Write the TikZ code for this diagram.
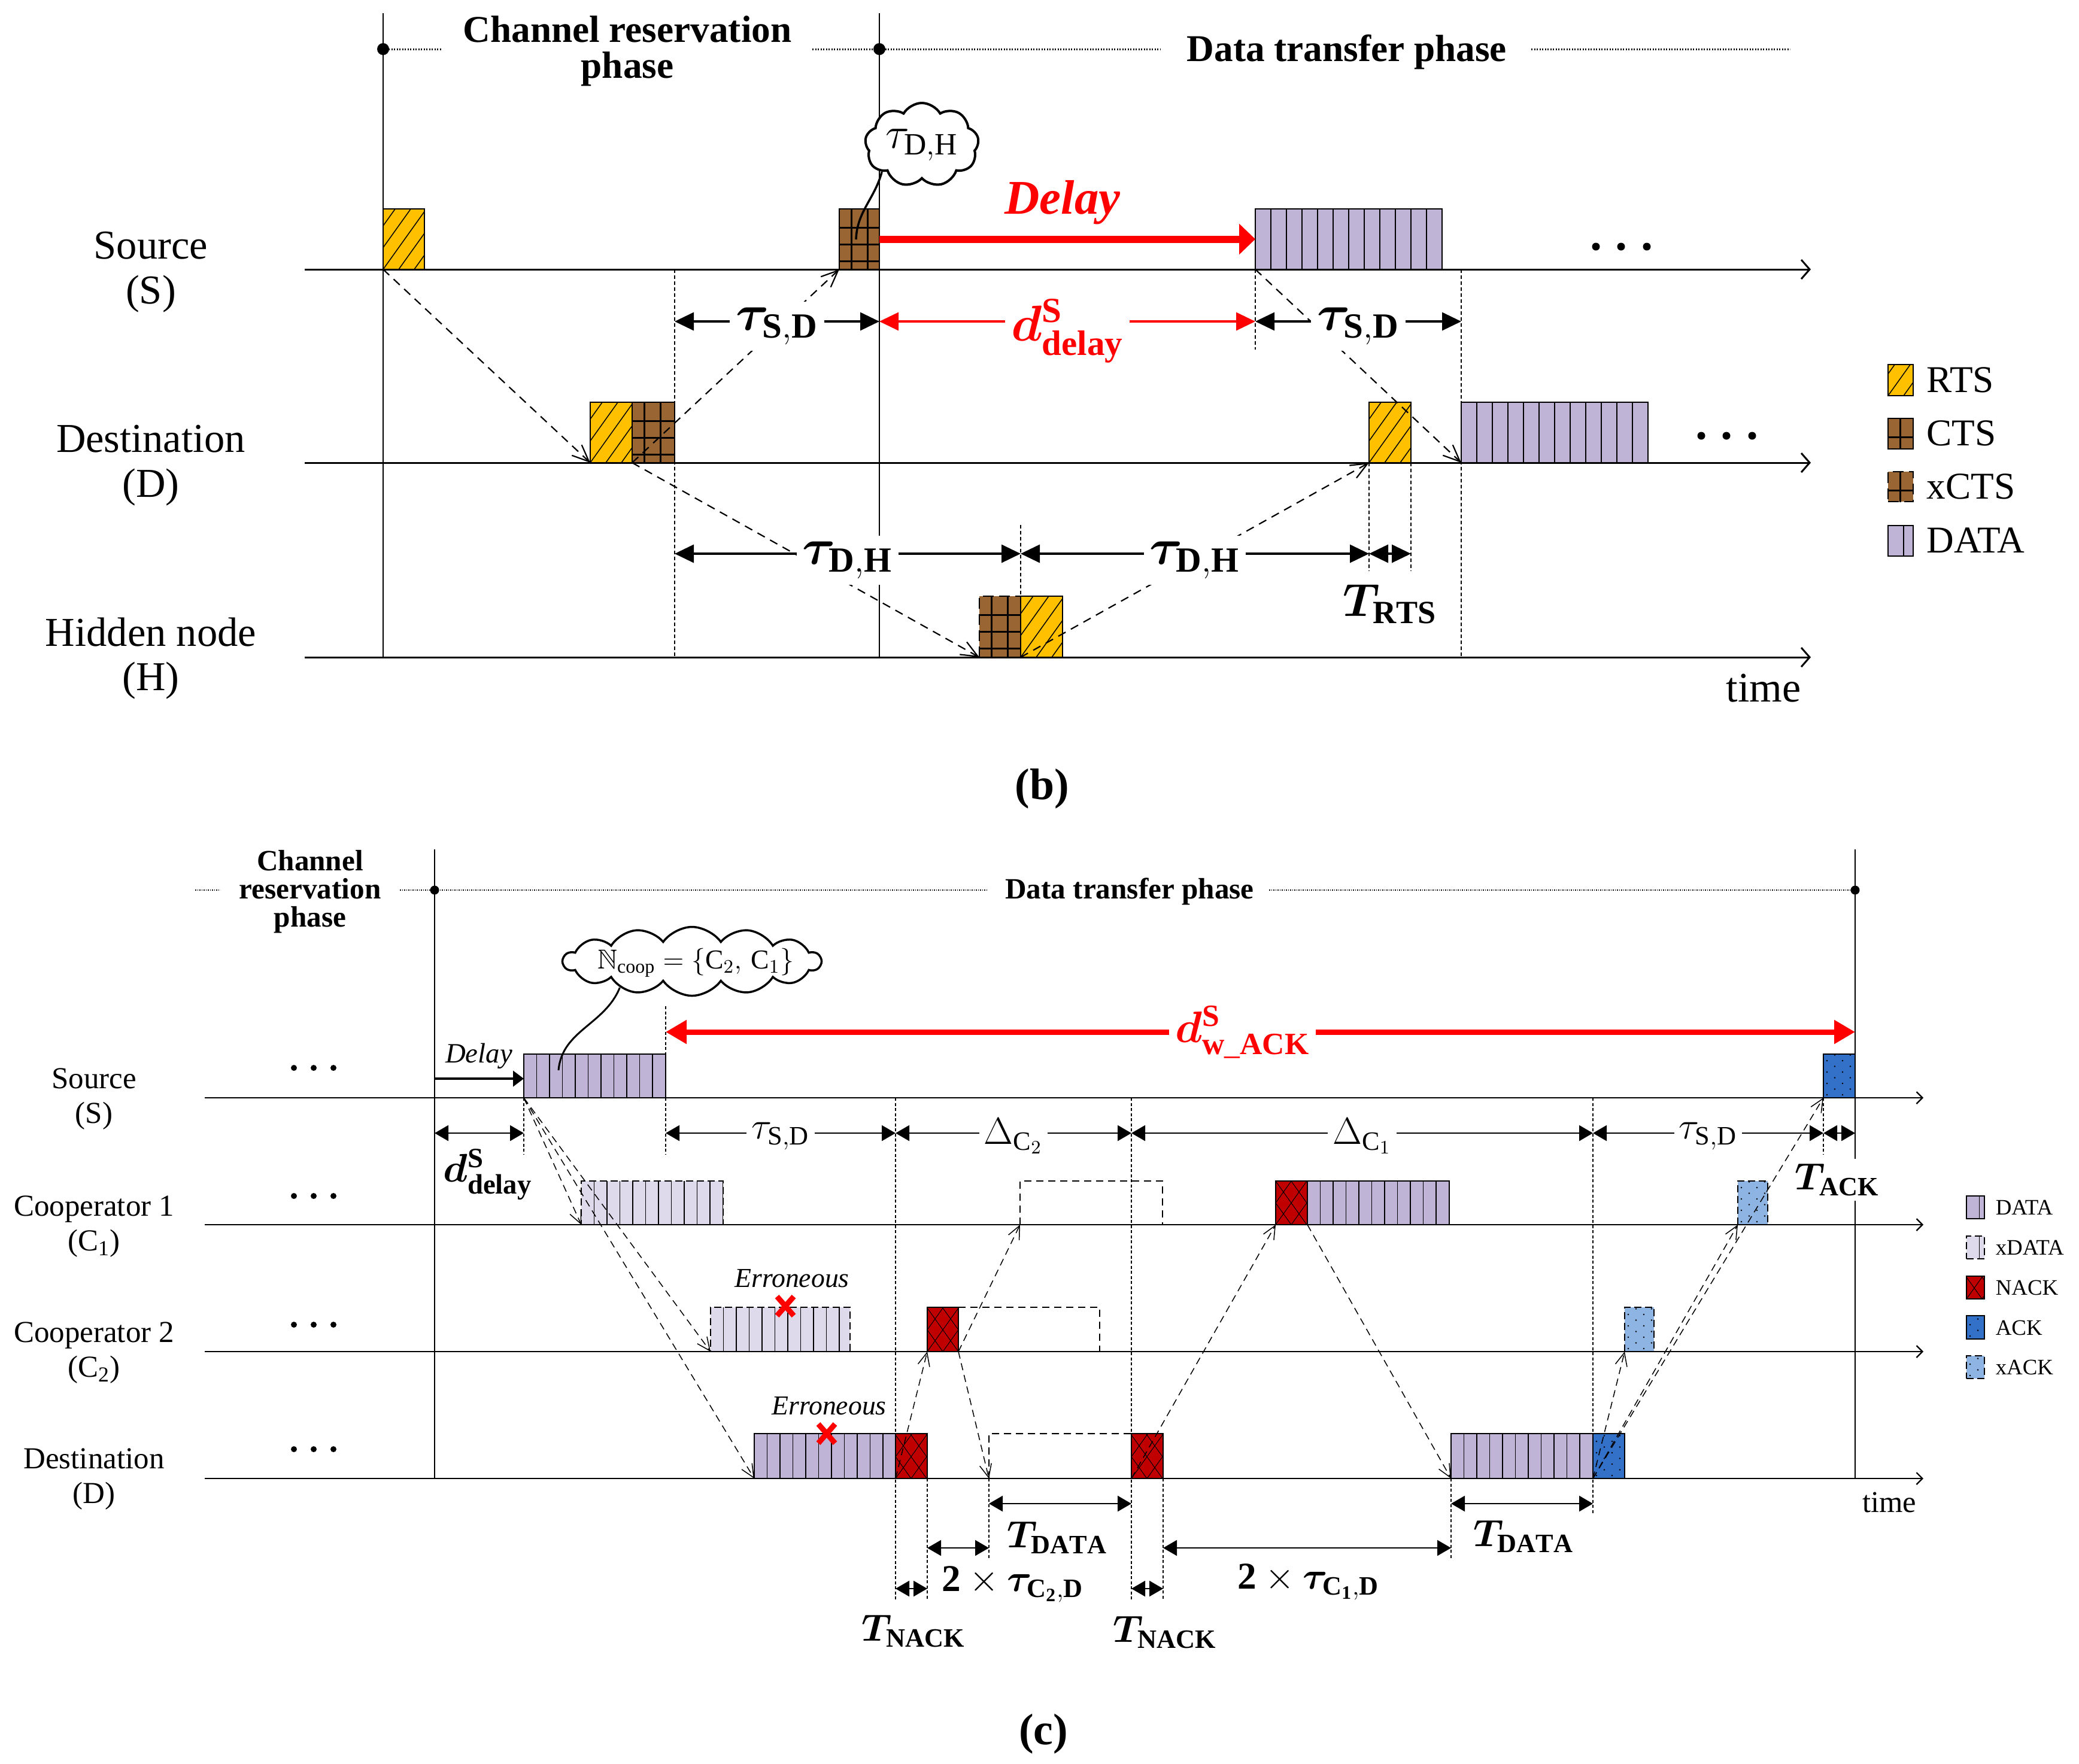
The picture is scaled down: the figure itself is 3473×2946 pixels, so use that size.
\RequirePackage{fix-cm}
\documentclass[tikz,border=0pt]{standalone}
\usepackage{amsmath,amssymb}
\usepackage{fontspec}
\setmainfont{Liberation Serif}
\usepackage{bm}
\usetikzlibrary{arrows.meta,shapes.symbols}
\definecolor{rtsc}{RGB}{255,192,0}
\definecolor{ctsc}{RGB}{153,102,51}
\definecolor{datac}{RGB}{192,180,214}
\definecolor{xdatac}{RGB}{223,218,235}
\definecolor{nackc}{RGB}{192,0,0}
\definecolor{ackc}{RGB}{51,112,200}
\definecolor{xackc}{RGB}{142,180,227}
\newcommand{\mypkt}[6]{\node[pkt,#2,minimum width={(#4-#3)*0.1mm},minimum height={(#5-#6)*0.1mm}] (#1) at (#3,#5) {};}
\newcommand{\ackdots}{\foreach \i in {0,...,3}{\foreach \j in {0,...,5}{\fill[black] ([xshift=\i*2.6mm+0.6mm,yshift=\j*1.9mm+0.5mm]path picture bounding box.south west) circle (0.14mm);\fill[black] ([xshift=\i*2.6mm+1.9mm,yshift=\j*1.9mm+1.45mm]path picture bounding box.south west) circle (0.14mm);}}}
\newcommand{\datalines}[2]{\foreach \k in {1,...,16}{\draw[black,solid,line width=#2] ([xshift=\k*#1]path picture bounding box.south west) -- ++(0,-200);}}
\tikzset{
 pkt/.style={draw, line width=0.25mm, inner sep=0pt, outer sep=0pt, anchor=south west},
 rtsb/.style={fill=rtsc, path picture={\foreach \k in {-12,...,6}{\draw[black,solid,line width=0.15mm] ([xshift=\k*2.6mm]path picture bounding box.south west) -- ++(100,-140);}}},
 ctsb/.style={fill=ctsc, path picture={\foreach \k in {1,...,3}{\draw[black,solid,line width=0.3mm] ([xshift=\k*2.7mm-0.7mm]path picture bounding box.north west) -- ++(0,200);}\foreach \k in {1,...,4}{\draw[black,solid,line width=0.3mm] ([yshift=-\k*2.8mm-0.3mm]path picture bounding box.north west) -- ++(200,0);}}},
 xctsb/.style={ctsb, dash pattern=on 1.8mm off 0.9mm},
 datab/.style={fill=datac, path picture={\datalines{2.6mm}{0.2mm}}},
 datacs/.style={fill=datac, line width=0.2mm, path picture={\datalines{2.15mm}{0.15mm}}},
 xdata/.style={fill=xdatac, line width=0.2mm, dash pattern=on 1.2mm off 0.6mm, path picture={\datalines{2.15mm}{0.15mm}}},
 nack/.style={fill=nackc, line width=0.2mm, path picture={\foreach \k in {-6,...,8}{\draw[black,solid,line width=0.1mm] ([xshift=\k*2.6mm]path picture bounding box.south west) -- ++(55,-77);\draw[black,solid,line width=0.1mm] ([xshift=\k*2.6mm]path picture bounding box.south west) -- ++(-55,-77);}}},
 ack/.style={fill=ackc, line width=0.2mm, path picture={\ackdots}},
 xack/.style={fill=xackc, line width=0.2mm, dash pattern=on 1.2mm off 0.6mm, path picture={\ackdots}},
 axb/.style={line width=0.3mm, -{Straight Barb[length=1.4mm,width=3.2mm]}},
 axc/.style={line width=0.22mm, -{Straight Barb[length=1mm,width=2mm]}},
 vsol/.style={line width=0.2mm},
 guide/.style={line width=0.15mm, dash pattern=on 0.6mm off 0.4mm},
 guidec/.style={line width=0.12mm, dash pattern=on 0.5mm off 0.35mm},
 sigb/.style={line width=0.22mm, dash pattern=on 1.4mm off 1mm, -{Straight Barb[length=2.8mm,width=2.4mm]}},
 sigc/.style={line width=0.15mm, dash pattern=on 1.2mm off 0.8mm, -{Straight Barb[length=2.2mm,width=2mm]}},
 dimb/.style={line width=0.35mm, {Triangle[length=3.2mm,width=3mm]}-{Triangle[length=3.2mm,width=3mm]}},
 dimc/.style={line width=0.25mm, {Triangle[length=2.3mm,width=2.6mm]}-{Triangle[length=2.3mm,width=2.6mm]}},
 phase/.style={line width=0.3mm, dash pattern=on 0.2mm off 0.25mm},
 phasec/.style={line width=0.2mm, dash pattern=on 0.15mm off 0.2mm},
 emp/.style={line width=0.2mm, dash pattern=on 1.2mm off 0.8mm},
 lblb/.style={font=\fontsize{19.5}{21.3}\selectfont, align=center},
 lblc/.style={font=\fontsize{14.5}{16.5}\selectfont, align=center},
 phb/.style={font=\bfseries\fontsize{18}{17}\selectfont, align=center},
 phc/.style={font=\bfseries\fontsize{14}{13.4}\selectfont, align=center},
 dlb/.style={font=\fontsize{24}{28}\selectfont, fill=white, inner sep=1mm},
 dlc/.style={font=\fontsize{18}{22}\selectfont, fill=white, inner sep=0.8mm},
 dlcn/.style={font=\fontsize{18}{22}\selectfont, inner sep=0.5mm},
 legb/.style={font=\fontsize{18}{20}\selectfont, anchor=west, inner sep=0pt},
 legc/.style={font=\fontsize{10.5}{12}\selectfont, anchor=west, inner sep=0pt},
 xmark/.style={red, line width=0.9mm},
 cloudshape/.style={cloud, draw, fill=white, cloud ignores aspect, inner sep=0pt},
}
\begin{document}
\begin{tikzpicture}[x=0.1mm,y=-0.1mm]
\useasboundingbox (0,0) rectangle (3473,2946);
%%%%%%%%%%%%%%%%%%%% panel (b)
\fill (640,82) circle (1mm);
\fill (1469,82) circle (1mm);
\draw[phase] (640,82) -- (737,82);
\draw[phase] (1357,82) -- (1938,82);
\draw[phase] (2558,82) -- (2990,82);
\node[phb] (bCRP) at (1048,85) {Channel reservation\\phase};
\node[phb] (bDTP) at (2250,87) {Data transfer phase};
% verticals and guides
\draw[vsol] (640,22) -- (640,1098);
\draw[vsol] (1469,22) -- (1469,1098);
\draw[guide] (1127,450) -- (1127,1098);
\draw[guide] (2441,450) -- (2441,1098);
\draw[guide] (2097,450) -- (2097,584);
\draw[guide] (1705,877) -- (1705,996);
\draw[guide] (2287,773) -- (2287,954);
\draw[guide] (2357,773) -- (2357,954);
% packets
\mypkt{sRTS}{rtsb}{640}{709}{450}{349}
\mypkt{sCTS}{ctsb}{1402}{1469}{450}{349}
\mypkt{sDATA}{datab}{2097}{2409}{450}{349}
\mypkt{dRTS}{rtsb}{986}{1056}{773}{672}
\mypkt{dCTS}{ctsb}{1056}{1127}{773}{672}
\mypkt{dRTSb}{rtsb}{2287}{2357}{773}{672}
\mypkt{dDATA}{datab}{2441}{2753}{773}{672}
\mypkt{hCTS}{xctsb}{1636}{1705}{1098}{996}
\mypkt{hRTS}{rtsb}{1705}{1775}{1098}{996}
% axes
\draw[axb] (509,450) -- (3025,450);
\draw[axb] (509,773) -- (3025,773);
\draw[axb] (509,1098) -- (3025,1098);
% signals
\draw[sigb] (sRTS.south west) -- (dRTS.south west);
\draw[sigb] (dCTS.south west) -- (sCTS.south west);
\draw[sigb] (dCTS.south west) -- (hCTS.south west);
\draw[sigb] (hRTS.south west) -- (dRTSb.south west);
\draw[sigb] (sDATA.south west) -- (dDATA.south west);
% red delay arrow
\draw[red, line width=1.2mm, -{Triangle[length=2.7mm,width=5mm]}] (sCTS.east) -- (sDATA.west);
\node[font=\bfseries\itshape\fontsize{23}{26}\selectfont, text=red, anchor=base] (bDelay) at (1775,357) {Delay};
% dimensions
\draw[dimb] (1127,537) -- node[dlb, yshift=-0.8mm] (lTSD1) {$\bm{\tau}_{\mathbf{S,D}}$} (1469,537);
\draw[dimb, red] (1469,537) -- node[dlb, text=red, yshift=-1.6mm] (lDdelB) {$\bm{d}^{\mathbf{S}}_{\mathbf{delay}}$} (2097,537);
\draw[dimb] (2097,537) -- node[dlb, yshift=-0.8mm] (lTSD2) {$\bm{\tau}_{\mathbf{S,D}}$} (2441,537);
\draw[dimb] (1127,925) -- node[dlb, yshift=-1.1mm] (lTDH1) {$\bm{\tau}_{\mathbf{D,H}}$} (1705,925);
\draw[dimb] (1705,925) -- node[dlb, yshift=-1.1mm] (lTDH2) {$\bm{\tau}_{\mathbf{D,H}}$} (2287,925);
\draw[dimb] (2287,925) -- (2357,925);
\node[font=\fontsize{22}{26}\selectfont] (lTRTS) at (2322,1009) {$\bm{T}_{\mathbf{RTS}}$};
% cloud
\node[cloudshape, line width=0.4mm, cloud puffs=9, cloud puff arc=120, minimum width=19mm, minimum height=14mm] (cloudB) at (1540,242) {};
\node[font=\fontsize{21}{24}\selectfont, inner sep=0pt] (cloudBtext) at (cloudB.center) {$\tau_{\mathrm{D,H}}$};
\coordinate (cloudBtip) at (1430,400);
\draw[line width=0.35mm] (cloudB.214) to[out=-105,in=88] (cloudBtip);
% dots
\foreach \dx in {0,42,85} \fill (2666+\dx,412) circle (0.65mm);
\foreach \dx in {0,42,85} \fill (2842+\dx,728) circle (0.65mm);
% labels
\node[lblb] (lS) at (252,455) {Source\\(S)};
\node[lblb] (lD) at (252,778) {Destination\\(D)};
\node[lblb] (lH) at (252,1100) {Hidden node\\(H)};
\node[font=\fontsize{20}{24}\selectfont] (ltimeB) at (2946,1150) {time};
% legend (b)
\mypkt{lgRTS}{rtsb}{3154}{3196}{661}{609}
\mypkt{lgCTS}{ctsb}{3154}{3196}{750}{699}
\mypkt{lgxCTS}{xctsb}{3154}{3196}{838}{788}
\mypkt{lgDATA}{datab}{3154}{3196}{929}{878}
\node[legb] (tRTS) at (3218,635) {RTS};
\node[legb] (tCTS) at (3218,724) {CTS};
\node[legb] (txCTS) at (3218,813) {xCTS};
\node[legb] (tDATA) at (3218,903) {DATA};
\node[font=\bfseries\fontsize{21}{24}\selectfont] (capB) at (1741,1318) {(b)};
%%%%%%%%%%%%%%%%%%%% panel (c)
\fill (726,1487) circle (0.75mm);
\fill (3099,1487) circle (0.75mm);
\draw[phasec] (326,1487) -- (368,1487);
\draw[phasec] (668,1487) -- (1651,1487);
\draw[phasec] (2120,1487) -- (3099,1487);
\node[phc] (cCRP) at (518,1490) {Channel\\reservation\\phase};
\node[phc] (cDTP) at (1887,1489) {Data transfer phase};
\draw[vsol] (726,1419) -- (726,2470);
\draw[vsol] (3099,1419) -- (3099,2470);
% guides
\draw[guidec] (875,1834) -- (875,1929);
\draw[guidec] (1112,1681) -- (1112,1929);
\draw[guidec] (1496,1834) -- (1496,2672);
\draw[guidec] (1549,2470) -- (1549,2672);
\draw[guidec] (1652,2470) -- (1652,2603);
\draw[guidec] (1890,1834) -- (1890,2672);
\draw[guidec] (1943,2470) -- (1943,2672);
\draw[guidec] (2424,2470) -- (2424,2603);
\draw[guidec] (2661,1834) -- (2661,2530);
\draw[guidec] (3046,1834) -- (3046,1928);
% packets
\mypkt{cSDATA}{datacs}{875}{1112}{1834}{1761}
\mypkt{cSACK}{ack}{3046}{3099}{1834}{1761}
\mypkt{c1xDATA}{xdata}{971}{1208}{2046}{1973}
\mypkt{c1NACK}{nack}{2131}{2184}{2046}{1973}
\mypkt{c1DATA}{datacs}{2184}{2421}{2046}{1973}
\mypkt{c1xACK}{xack}{2903}{2953}{2046}{1973}
\mypkt{c2xDATA}{xdata}{1187}{1420}{2258}{2184}
\mypkt{c2NACK}{nack}{1549}{1601}{2258}{2184}
\mypkt{c2xACK}{xack}{2714}{2763}{2258}{2184}
\mypkt{dDATAe}{datacs}{1260}{1496}{2470}{2395}
\mypkt{dNACK1}{nack}{1496}{1549}{2470}{2395}
\mypkt{dNACK2}{nack}{1890}{1943}{2470}{2395}
\mypkt{dDATA2}{datacs}{2424}{2661}{2470}{2395}
\mypkt{dACK}{ack}{2661}{2714}{2470}{2395}
% empty expected slots
\draw[emp] (1704,2046) -- (1704,1973) -- (1942,1973) -- (1942,2046);
\draw[emp] (c2NACK.north east) -- (1837,2184) -- (1837,2258);
\draw[emp] (1652,2470) -- (1652,2395) -- (dNACK2.north west);
% axes
\draw[axc] (342,1834) -- (3213,1834);
\draw[axc] (342,2046) -- (3213,2046);
\draw[axc] (342,2258) -- (3213,2258);
\draw[axc] (342,2470) -- (3213,2470);
% signals
\coordinate (dExp) at (1652,2470);
\coordinate (c1Exp) at (1704,2046);
\draw[sigc] (cSDATA.south west) -- (c1xDATA.south west);
\draw[sigc] (cSDATA.south west) -- (c2xDATA.south west);
\draw[sigc] (cSDATA.south west) -- (dDATAe.south west);
\draw[sigc] (dNACK1.south west) -- (c2NACK.south west);
\draw[sigc] (c2NACK.south east) -- (dExp);
\draw[sigc] (c2NACK.south east) -- (c1Exp);
\draw[sigc] (dNACK2.south west) -- (c1NACK.south west);
\draw[sigc] (c1DATA.south west) -- (dDATA2.south west);
\draw[sigc] (dACK.south west) -- (c2xACK.south west);
\draw[sigc] (dACK.south west) -- (c1xACK.south west);
\draw[sigc] (dACK.south west) -- (cSACK.south west);
% red w_ACK arrow
\draw[red, line width=0.9mm, {Triangle[length=3.5mm,width=3.8mm]}-{Triangle[length=3.5mm,width=3.8mm]}] (1112,1724) -- node[pos=0.485, fill=white, text=red, font=\fontsize{21}{24}\selectfont, inner sep=1mm] (lDwack) {$\bm{d}^{\mathbf{S}}_{\mathbf{w\_ACK}}$} (3099,1724);
% Delay arrow
\coordinate (cDelA) at (726,1802);
\draw[line width=0.4mm, -{Triangle[length=1.8mm,width=2.6mm]}] (cDelA) -- (cSDATA.west |- cDelA);
\node[font=\itshape\fontsize{13.3}{16}\selectfont, anchor=base] (cDelay) at (800,1775) {Delay};
% dimensions upper row
\draw[dimc] (726,1893) -- (875,1893);
\node[font=\fontsize{19}{22}\selectfont] (lDdelC) at (815,1962) {$\bm{d}^{\mathbf{S}}_{\mathbf{delay}}$};
\draw[dimc] (1112,1893) -- node[dlc, yshift=-0.5mm] (lTSDc1) {$\tau_{\mathrm{S,D}}$} (1496,1893);
\draw[dimc] (1496,1893) -- node[dlc, yshift=-0.5mm] (lDC2) {$\Delta_{\mathrm{C}_2}$} (1890,1893);
\draw[dimc] (1890,1893) -- node[dlc, yshift=-0.5mm] (lDC1) {$\Delta_{\mathrm{C}_1}$} (2661,1893);
\draw[dimc] (2661,1893) -- node[dlc, yshift=-0.5mm] (lTSDc2) {$\tau_{\mathrm{S,D}}$} (3046,1893);
\draw[dimc] (3046,1893) -- (3099,1893);
\node[dlc] (lTACK) at (3069,1971) {$\bm{T}_{\mathbf{ACK}}$};
% dimensions lower
\draw[dimc] (1652,2512) -- (1890,2512);
\node[dlcn] (lTD1) at (1766,2569) {$\bm{T}_{\mathbf{DATA}}$};
\draw[dimc] (1549,2586) -- (1652,2586);
\node[dlcn] (l2C2) at (1692,2647) {$\mathbf{2}\times\bm{\tau}_{\mathbf{C}_{\mathbf{2}}\mathbf{,D}}$};
\draw[dimc] (1496,2654) -- (1549,2654);
\node[dlcn] (lTN1) at (1526,2725) {$\bm{T}_{\mathbf{NACK}}$};
\draw[dimc] (1943,2586) -- (2424,2586);
\node[dlcn] (l2C1) at (2186,2643) {$\mathbf{2}\times\bm{\tau}_{\mathbf{C}_{\mathbf{1}}\mathbf{,D}}$};
\draw[dimc] (1890,2654) -- (1943,2654);
\node[dlcn] (lTN2) at (1946,2727) {$\bm{T}_{\mathbf{NACK}}$};
\draw[dimc] (2424,2512) -- (2661,2512);
\node[dlcn] (lTD2) at (2545,2567) {$\bm{T}_{\mathbf{DATA}}$};
% erroneous marks
\coordinate (xm1) at (1312,2182);
\coordinate (xm2) at (1381,2395);
\draw[xmark] ([xshift=-1.4mm,yshift=1.6mm]xm1) -- ([xshift=1.4mm,yshift=-1.6mm]xm1);
\draw[xmark] ([xshift=1.4mm,yshift=1.6mm]xm1) -- ([xshift=-1.4mm,yshift=-1.6mm]xm1);
\draw[xmark] ([xshift=-1.4mm,yshift=1.6mm]xm2) -- ([xshift=1.4mm,yshift=-1.6mm]xm2);
\draw[xmark] ([xshift=1.4mm,yshift=1.6mm]xm2) -- ([xshift=-1.4mm,yshift=-1.6mm]xm2);
\node[font=\itshape\fontsize{13}{15}\selectfont, anchor=base] (err1) at (1323,2150) {Erroneous};
\node[font=\itshape\fontsize{13}{15}\selectfont, anchor=base] (err2) at (1385,2363) {Erroneous};
% cloud (c)
\node[cloudshape, line width=0.35mm, cloud puffs=14, cloud puff arc=110, minimum width=43mm, minimum height=11.5mm] (cloudC) at (1156,1606) {};
\node[font=\fontsize{13}{16}\selectfont, inner sep=0pt] (cloudCtext) at (1162,1608) {$\mathbb{N}_{\mathrm{coop}}=\{\mathrm{C}_2,\,\mathrm{C}_1\}$};
\coordinate (cloudCtip) at (933,1788);
\draw[line width=0.3mm] (cloudC.200) to[out=-112,in=85] (cloudCtip);
% dots
\foreach \yy in {1784,1998,2213,2421} {\foreach \dx in {0,33,66} \fill (491+\dx,\yy) circle (0.5mm);}
% labels
\node[lblc] (cLS) at (157,1836) {Source\\(S)};
\node[lblc] (cLC1) at (157,2049) {Cooperator 1\\(C\textsubscript{1})};
\node[lblc] (cLC2) at (157,2260) {Cooperator 2\\(C\textsubscript{2})};
\node[lblc] (cLD) at (157,2471) {Destination\\(D)};
\node[font=\fontsize{14.4}{17}\selectfont] (ctime) at (3156,2510) {time};
% legend (c)
\mypkt{lcDATA}{datacs}{3285}{3315}{2036}{1998}
\mypkt{lcxDATA}{xdata}{3285}{3315}{2103}{2065}
\mypkt{lcNACK}{nack}{3285}{3315}{2170}{2132}
\mypkt{lcACK}{ack}{3285}{3315}{2237}{2198}
\mypkt{lcxACK}{xack}{3285}{3315}{2303}{2265}
\node[legc] (tcDATA) at (3333,2017) {DATA};
\node[legc] (tcxDATA) at (3333,2084) {xDATA};
\node[legc] (tcNACK) at (3333,2151) {NACK};
\node[legc] (tcACK) at (3333,2218) {ACK};
\node[legc] (tcxACK) at (3333,2284) {xACK};
\node[font=\bfseries\fontsize{21}{24}\selectfont] (capC) at (1743,2897) {(c)};
\end{tikzpicture}
\end{document}
